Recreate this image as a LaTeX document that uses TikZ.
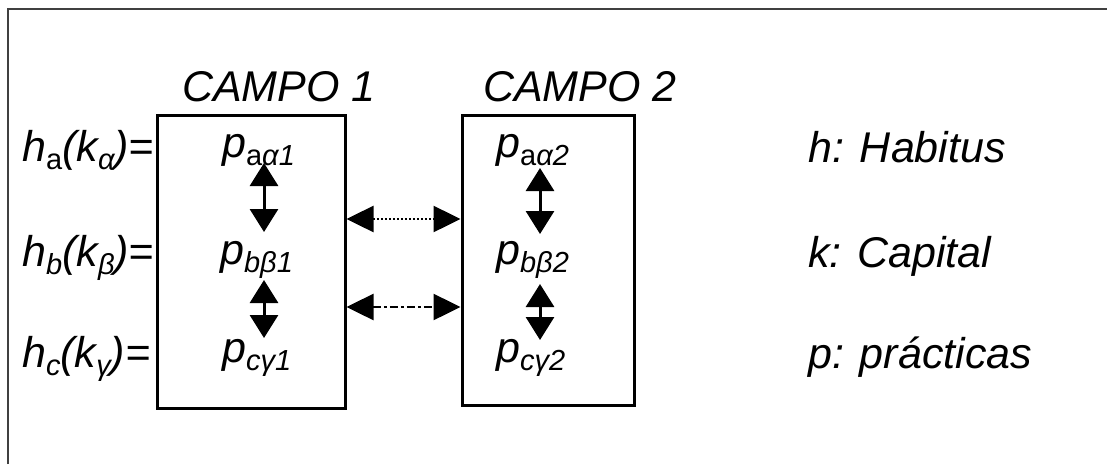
\documentclass[tikz,border=0pt]{standalone}
\usepackage{fontspec}
\setmainfont{Liberation Sans}
\usetikzlibrary{arrows.meta,calc}
\newcommand\lowsub[1]{\raisebox{-8pt}{\fontsize{29}{29}\selectfont #1}}
\begin{document}
\begin{tikzpicture}[x=1pt,y=-1pt,
  txt/.style={font=\fontsize{43}{43}\selectfont\itshape, inner sep=0pt, anchor=base west},
  ptxt/.style={font=\fontsize{43}{43}\selectfont\itshape, inner sep=0pt, anchor=base},
  field/.style={draw, line width=3pt, inner sep=0pt},
  varr/.style={line width=3pt, {Triangle[length=23pt,width=28pt]}-{Triangle[length=23pt,width=28pt]}},
  harr/.style={line width=2.5pt, {Triangle[length=27pt,width=26pt]}-{Triangle[length=27pt,width=26pt]}},
  frame/.style={line width=2pt, draw=black!75}]
\useasboundingbox (0,0) rectangle (1107,464);
\draw[frame] (8,464) -- (8,9) -- (1107,9);

\node[field, minimum width=188pt, minimum height=293pt] (box1) at (251,261.5) {};
\node[field, minimum width=172pt, minimum height=290pt] (box2) at (548,260) {};

\node[ptxt] (t1) at (279,101) {CAMPO 1};
\node[ptxt] (t2) at (580,101) {CAMPO 2};

\node[txt] (ha) at (22,161) {h\lowsub{\upshape a}(k\lowsub{α})=};
\node[txt] (hb) at (22,266) {h\lowsub{b}(k\lowsub{β})=};
\node[txt] (hc) at (22,367) {h\lowsub{c}(k\lowsub{γ})=};

\node[txt] (pa1) at (222,157) {p\lowsub{\upshape a\itshape α1}};
\node[txt] (pb1) at (220,264) {p\lowsub{bβ1}};
\node[txt] (pc1) at (222,362) {p\lowsub{cγ1}};
\node[txt] (pa2) at (496,157) {p\lowsub{\upshape a\itshape α2}};
\node[txt] (pb2) at (496,264) {p\lowsub{bβ2}};
\node[txt] (pc2) at (496,362) {p\lowsub{cγ2}};

\node[txt] (lh) at (808,162) {h: Habitus};
\node[txt] (lk) at (808,267) {k: Capital};
\node[txt] (lp) at (808,368) {p: prácticas};

\coordinate (v1) at (264,0);
\coordinate (v2) at (540,0);
\draw[varr] ($(pa1.base -| v1)+(0,6)$) -- ($(pb1.base -| v1)+(0,-32)$);
\draw[varr] ($(pb1.base -| v1)+(0,16)$) -- ($(pc1.base -| v1)+(0,-24)$);
\draw[varr] ($(pa2.base -| v2)+(0,11)$) -- ($(pb2.base -| v2)+(0,-30)$);
\draw[varr] ($(pb2.base -| v2)+(0,20)$) -- ($(pc2.base -| v2)+(0,-22)$);

\coordinate (r1) at (0,219);
\coordinate (r2) at (0,307);
\draw[harr, dash pattern=on 2pt off 2pt] (box1.east |- r1) -- (box2.west |- r1);
\draw[harr, dash pattern=on 8pt off 3pt on 3pt off 3pt] (box1.east |- r2) -- (box2.west |- r2);
\end{tikzpicture}
\end{document}
